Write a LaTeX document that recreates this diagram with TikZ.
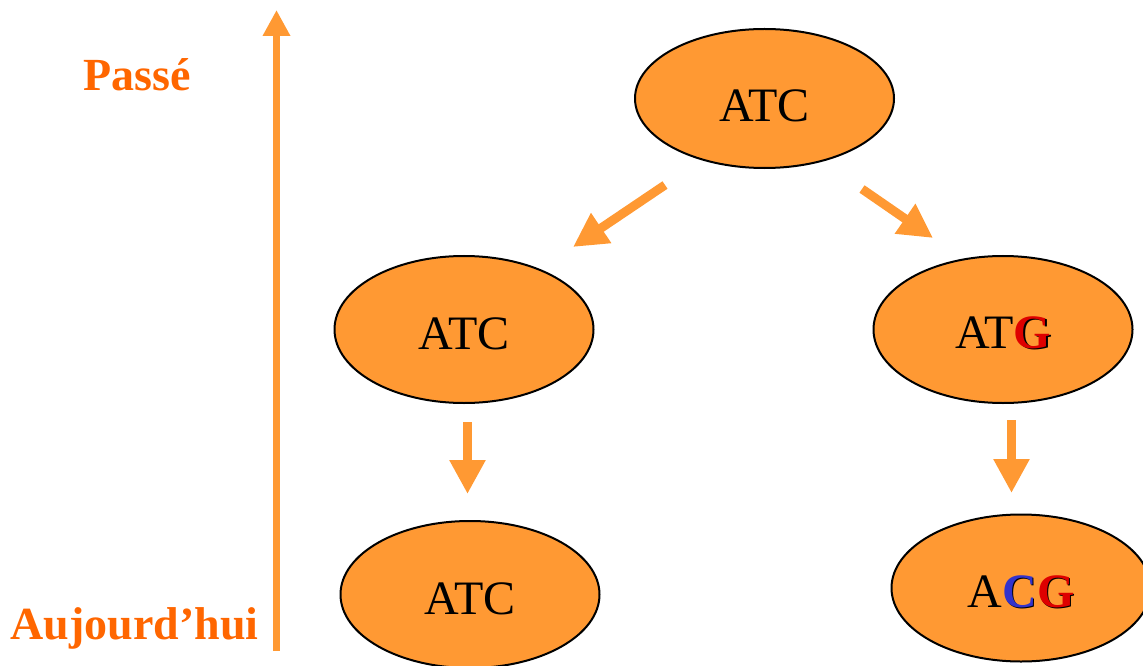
\documentclass[tikz,border=0pt]{standalone}
\usepackage{fontspec}
\setmainfont{Liberation Serif}
\usetikzlibrary{shapes.geometric,arrows.meta}
\definecolor{cellfill}{HTML}{FF9933}
\definecolor{arrowc}{HTML}{FF9933}
\definecolor{labelc}{HTML}{FF6600}
\definecolor{mutred}{RGB}{222,0,0}
\definecolor{mutblue}{RGB}{51,51,204}
\newcommand\shadowletter[2]{\makebox[0pt][l]{\hspace{1.6bp}\raisebox{-1.2bp}{\color{black}\bfseries #2}}{\color{#1}\bfseries #2}}
\tikzset{
  seqcell/.style={ellipse, draw=black, line width=2bp, fill=cellfill, inner sep=0pt,
    minimum width=259bp, minimum height=147bp, text height=40bp,
    font=\fontsize{48bp}{52bp}\selectfont},
  evolarrow/.style={draw=arrowc, line width=9bp, -{Triangle[length=34bp,width=34bp]}},
  timearrow/.style={draw=arrowc, line width=7bp, -{Triangle[length=26bp,width=26bp]}},
  timelabel/.style={text=labelc, anchor=base, inner sep=0pt, font=\fontsize{46bp}{50bp}\selectfont\bfseries}
}
\begin{document}
\begin{tikzpicture}[x=1bp,y=-1bp]
\useasboundingbox (0,0) rectangle (1143,666);
% nodes
\node[seqcell, minimum height=139bp, text height=47bp] (top) at (764.5,98.5) {ATC};
\node[seqcell] (ml) at (464,329.5) {ATC};
\node[seqcell] (mr) at (1003,329.5) {AT\shadowletter{mutred}{G}};
\node[seqcell] (bl) at (470,594.5) {ATC};
\node[seqcell] (br) at (1021,588) {A\shadowletter{mutblue}{C}\shadowletter{mutred}{G}};
% labels
\node[timelabel] (past) at (137,91) {Passé};
\node[timelabel] (now) at (134.5,639) {Aujourd’hui};
% arrow end points
\coordinate (tlS) at (665,185);
\coordinate (tlE) at (573,247);
\coordinate (trS) at (862,189);
\coordinate (trE) at (933,238);
\coordinate (vlS) at (467.5,422);
\coordinate (vlE) at (467.5,494);
\coordinate (vrS) at (1011.5,420);
\coordinate (vrE) at (1011.5,493);
\coordinate (timeS) at (276.5,651);
\coordinate (timeE) at (276.5,10);
% arrows
\draw[evolarrow] (tlS) -- (tlE);
\draw[evolarrow] (trS) -- (trE);
\draw[evolarrow] (vlS) -- (vlE);
\draw[evolarrow] (vrS) -- (vrE);
\draw[timearrow] (timeS) -- (timeE);
\end{tikzpicture}
\end{document}
